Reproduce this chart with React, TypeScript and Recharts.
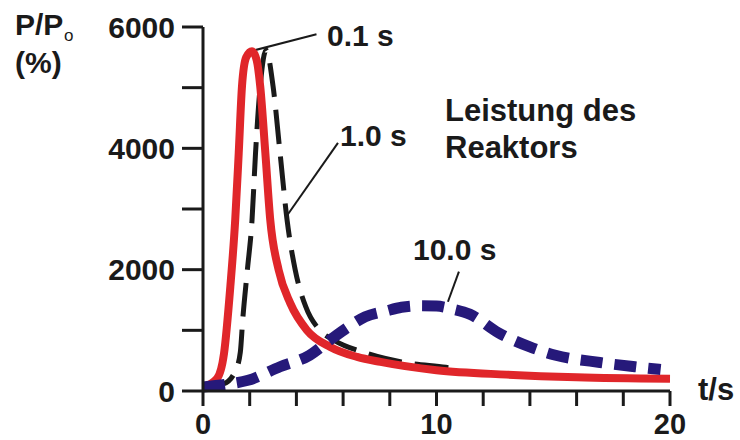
import { LineChart, Line, XAxis, YAxis, ReferenceLine } from "recharts";

// time in seconds, power P/Po in %
const redT = [0, 0.6, 0.9, 1.17, 1.38, 1.53, 1.67, 1.85, 2.1, 2.3, 2.45, 2.67, 2.88, 3.24, 3.74, 4.45, 5.45, 6.6, 7.6, 10, 13, 16, 20];
const redP = [66, 205, 618, 1719, 2821, 3924, 5025, 5500, 5600, 5450, 5025, 3924, 2821, 1995, 1444, 1003, 727, 562, 479, 342, 270, 225, 200];

const blackT = [0, 0.9, 1.4, 1.6, 1.7, 1.9, 2.1, 2.25, 2.45, 2.7, 3.0, 3.3, 3.6, 3.95, 4.4, 5.0, 5.6, 7.0, 8.5, 10.4, 11];
const blackP = [60, 122, 342, 645, 1169, 1995, 2821, 3924, 5025, 5620, 5025, 3924, 2821, 1995, 1389, 1003, 838, 623, 480, 391, 360];

const blueT = [0, 1, 1.93, 3.3, 4.57, 5.43, 6.2, 6.95, 7.85, 8.5, 9.3, 10, 10.7, 11.42, 12.63, 14, 15.1, 17, 18.5, 19.6];
const blueP = [66, 110, 177, 400, 590, 838, 1050, 1223, 1320, 1380, 1405, 1400, 1350, 1268, 965, 727, 590, 470, 400, 354];

const xTicks = [0, 2, 4, 6, 8, 10, 12, 14, 16, 18, 20];
const xLabels = [0, 10, 20];
const yTicks = [0, 1000, 2000, 3000, 4000, 5000, 6000];
const yLabels = [0, 2000, 4000, 6000];

const toRows = (ts: number[], ps: number[]) => ts.map((t, i) => ({ t, p: ps[i] }));

const FONT = "'Liberation Sans', Arial, sans-serif";
const INK = "#1a1a1a";
const tickStyle = { fontSize: 30, fontWeight: 700, fill: INK, fontFamily: FONT };

export default function App() {
  return (
    <div style={{ position: "absolute", left: 0, top: 0, width: 740, height: 440, background: "#fff" }}>
      <LineChart width={740} height={440} margin={{ top: 27, right: 70, bottom: 0, left: 0 }}>
        <XAxis
          dataKey="t"
          type="number"
          domain={[0, 20]}
          ticks={xTicks}
          tickFormatter={(v) => (xLabels.includes(v) ? String(v) : "")}
          height={49}
          tickSize={15}
          tickMargin={7}
          stroke={INK}
          strokeWidth={3}
          tick={{ ...tickStyle, fontSize: 29 }}
          allowDuplicatedCategory={false}
        />
        <YAxis
          type="number"
          domain={[0, 6000]}
          ticks={yTicks}
          tickFormatter={(v) => (yLabels.includes(v) ? String(v) : "")}
          width={203}
          tickSize={21}
          tickMargin={7}
          stroke={INK}
          strokeWidth={3}
          tick={tickStyle}
        />
        <ReferenceLine segment={[{ x: 2.07, y: 5603 }, { x: 4.86, y: 5879 }]} stroke={INK} strokeWidth={2} />
        <ReferenceLine segment={[{ x: 5.78, y: 4089 }, { x: 3.57, y: 2876 }]} stroke={INK} strokeWidth={2} />
        <ReferenceLine segment={[{ x: 10.96, y: 1967 }, { x: 10.49, y: 1471 }]} stroke={INK} strokeWidth={2} />
        <Line
          data={toRows(blackT, blackP)}
          dataKey="p"
          type="monotone"
          stroke={INK}
          strokeWidth={5}
          strokeDasharray="34 13"
          dot={false}
          isAnimationActive={false}
        />
        <Line
          data={toRows(redT, redP)}
          dataKey="p"
          type="monotone"
          stroke="#e0262a"
          strokeWidth={8}
          dot={false}
          isAnimationActive={false}
        />
        <Line
          data={toRows(blueT, blueP)}
          dataKey="p"
          type="monotone"
          stroke="#26197a"
          strokeWidth={11}
          strokeDasharray="22 12"
          dot={false}
          isAnimationActive={false}
        />
      </LineChart>
      <svg
        width={740}
        height={440}
        style={{ position: "absolute", left: 0, top: 0, pointerEvents: "none" }}
        fontFamily={FONT}
        fontWeight={700}
        fill={INK}
      >
        <text x={15} y={35} fontSize={30}>
          P/P
        </text>
        <text x={64} y={41} fontSize={17} fontWeight={400}>
          o
        </text>
        <text x={15} y={73} fontSize={30}>
          (%)
        </text>
        <text x={698} y={400} fontSize={31}>
          t/s
        </text>
        <text x={327} y={46} fontSize={30}>
          0.1 s
        </text>
        <text x={340} y={146} fontSize={30}>
          1.0 s
        </text>
        <text x={413} y={260} fontSize={30}>
          10.0 s
        </text>
        <text x={445} y={121} fontSize={31}>
          Leistung des
        </text>
        <text x={445} y={158} fontSize={31}>
          Reaktors
        </text>
      </svg>
    </div>
  );
}
